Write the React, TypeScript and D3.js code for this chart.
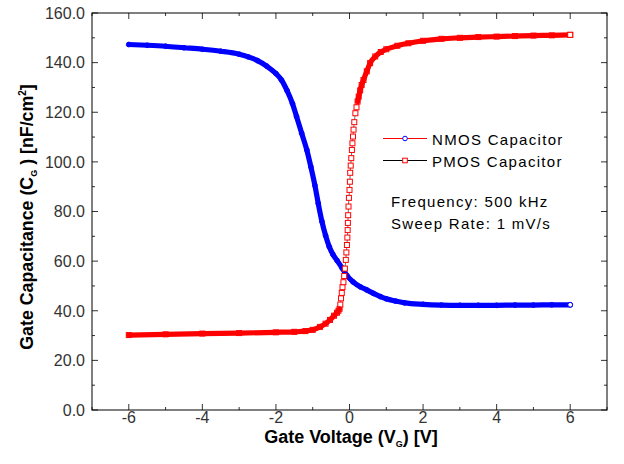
import React from "react";
import * as d3 from "d3";

// NMOS capacitor (blue circles)
const nmosV = [-6.0, -5.5, -5.0, -4.5, -4.0, -3.5, -3.0, -2.75, -2.5, -2.25, -2.0, -1.85, -1.7, -1.55, -1.44, -1.3, -1.16, -1.05, -0.94, -0.85, -0.75, -0.65, -0.55, -0.45, -0.34, -0.2, -0.07, 0.1, 0.3, 0.47, 0.65, 0.84, 1.0, 1.25, 1.5, 2.0, 2.5, 3.0, 3.5, 4.0, 4.5, 5.0, 5.5, 6.0];
const nmosC = [147.3, 147.0, 146.6, 146.0, 145.4, 144.6, 143.4, 142.3, 140.8, 138.6, 135.6, 133.0, 128.8, 123.5, 118.3, 111.5, 104.8, 98.0, 90.5, 83.3, 76.0, 70.3, 65.8, 62.7, 60.3, 57.2, 54.2, 51.6, 49.6, 48.4, 47.0, 45.7, 44.8, 43.9, 43.2, 42.6, 42.3, 42.2, 42.2, 42.2, 42.3, 42.3, 42.4, 42.4];

// PMOS capacitor (red squares)
const pmosV = [-6.0, -5.0, -4.0, -3.0, -2.0, -1.5, -1.2, -1.0, -0.8, -0.65, -0.53, -0.42, -0.34, -0.3, -0.27, -0.25, -0.23, -0.21, -0.19, -0.165, -0.145, -0.125, -0.1, -0.085, -0.07, -0.058, -0.05, -0.044, -0.036, -0.027, -0.016, 0.0, 0.01, 0.019, 0.033, 0.048, 0.065, 0.08, 0.095, 0.11, 0.13, 0.16, 0.19, 0.22, 0.25, 0.29, 0.33, 0.38, 0.47, 0.56, 0.7, 0.85, 1.0, 1.3, 1.6, 2.0, 2.5, 3.0, 3.5, 4.0, 4.5, 5.0, 5.5, 6.0];
const pmosC = [30.2, 30.5, 30.8, 31.0, 31.3, 31.5, 31.8, 32.3, 33.5, 34.8, 36.3, 38.0, 39.2, 40.0, 40.8, 42.5, 45.0, 47.2, 49.5, 51.5, 54.0, 57.0, 60.5, 63.5, 66.5, 69.5, 72.5, 75.4, 78.5, 82.0, 85.5, 88.7, 92.0, 95.6, 98.5, 101.5, 104.8, 107.5, 110.2, 113.0, 116.0, 119.6, 122.0, 124.3, 126.3, 128.8, 131.0, 133.0, 136.5, 139.8, 142.5, 144.3, 145.4, 146.8, 147.8, 148.8, 149.6, 150.0, 150.3, 150.5, 150.7, 150.9, 151.0, 151.2];

const xMajor = [-6, -4, -2, 0, 2, 4, 6];
const xMinor = [-7, -5, -3, -1, 1, 3, 5, 7];
const yMajor = [0, 20, 40, 60, 80, 100, 120, 140, 160];
const yMinor = [10, 30, 50, 70, 90, 110, 130, 150];
const legendLabels = ["NMOS Capacitor", "PMOS Capacitor"];
const notes = ["Frequency: 500 kHz", "Sweep Rate: 1 mV/s"];

type P = [number, number];

export default function App() {
  const W = 624, H = 464;
  const left = 92, right = 607, top = 13, bottom = 410;
  const x = d3.scaleLinear().domain([-7, 7]).range([left, right]);
  const y = d3.scaleLinear().domain([0, 160]).range([bottom, top]);
  const fmt = d3.format(".1f");
  const font = "'Liberation Sans', Arial, sans-serif";

  const nmos: P[] = nmosV.map((v, i) => [v, nmosC[i]]);
  const pmos: P[] = pmosV.map((v, i) => [v, pmosC[i]]);

  const line = d3.line<P>().x((d) => x(d[0])).y((d) => y(d[1])).curve(d3.curveMonotoneX);

  // runs of the sweep where the real (dense) markers overlap into a solid band
  const bandRuns = (pts: P[], maxSlope: number) => {
    const runs: P[][] = [];
    let cur: P[] | null = null;
    for (let i = 0; i < pts.length - 1; i++) {
      const a = pts[i], b = pts[i + 1];
      const s = Math.abs(y(b[1]) - y(a[1])) / Math.abs(x(b[0]) - x(a[0]));
      if (s < maxSlope) {
        if (!cur) { cur = [a]; runs.push(cur); }
        cur.push(b);
      } else cur = null;
    }
    return runs;
  };

  const tickLen = 6, minorLen = 3;
  const tickColor = "#333";
  const sq = 5;

  return (
    <svg width={W} height={H} style={{ position: "absolute", left: 0, top: 0, background: "#fff" }} fontFamily={font}>
      <rect x={0} y={0} width={W} height={H} fill="#fff" />
      {/* ticks */}
      {xMajor.map((t) => (
        <g key={"xm" + t} stroke={tickColor} strokeWidth={1}>
          <line x1={x(t)} x2={x(t)} y1={bottom} y2={bottom - tickLen} />
          <line x1={x(t)} x2={x(t)} y1={top} y2={top + tickLen} />
        </g>
      ))}
      {xMinor.map((t) => (
        <g key={"xn" + t} stroke={tickColor} strokeWidth={1}>
          <line x1={x(t)} x2={x(t)} y1={bottom} y2={bottom - minorLen} />
          <line x1={x(t)} x2={x(t)} y1={top} y2={top + minorLen} />
        </g>
      ))}
      {yMajor.map((t) => (
        <g key={"ym" + t} stroke={tickColor} strokeWidth={1}>
          <line x1={left} x2={left + tickLen} y1={y(t)} y2={y(t)} />
          <line x1={right} x2={right - tickLen} y1={y(t)} y2={y(t)} />
        </g>
      ))}
      {yMinor.map((t) => (
        <g key={"yn" + t} stroke={tickColor} strokeWidth={1}>
          <line x1={left} x2={left + minorLen} y1={y(t)} y2={y(t)} />
          <line x1={right} x2={right - minorLen} y1={y(t)} y2={y(t)} />
        </g>
      ))}
      <rect x={left} y={top} width={right - left} height={bottom - top} fill="none" stroke="#000" strokeWidth={1} />

      {/* tick labels */}
      {xMajor.map((t) => (
        <text key={"xl" + t} x={x(t)} y={423} textAnchor="middle" fontSize={16} fill="#333">{t}</text>
      ))}
      {yMajor.map((t) => (
        <text key={"yl" + t} x={85} y={y(t)} dy="0.36em" textAnchor="end" fontSize={16} fill="#333">{fmt(t)}</text>
      ))}

      {/* axis titles */}
      <text x={351} y={443} textAnchor="middle" fontSize={18} fontWeight="bold" fill="#000">
        Gate Voltage (V<tspan fontSize={9} dy={4}>G</tspan><tspan dy={-4}>) [V]</tspan>
      </text>
      <text transform={`translate(33,217) rotate(-90)`} textAnchor="middle" fontSize={17.8} fontWeight="bold" fill="#000">
        Gate Capacitance (C<tspan fontSize={9} dy={4}>G</tspan><tspan dy={-4}> ) [nF/cm</tspan><tspan fontSize={10} dy={-7}>2</tspan><tspan dy={7}>]</tspan>
      </text>

      {/* NMOS series */}
      <path d={line(nmos) || ""} fill="none" stroke="#ff0000" strokeWidth={0.6} />
      {nmos.map((d, i) => (
        <circle key={"nc" + i} cx={x(d[0])} cy={y(d[1])} r={2.4} fill="#fff" stroke="#0000ff" strokeWidth={1} />
      ))}
      {bandRuns(nmos, 1000).map((run, i) => (
        <path key={"nb" + i} d={line(run) || ""} fill="none" stroke="#0000ff" strokeWidth={5.2} strokeLinecap="round" strokeLinejoin="round" />
      ))}

      {/* PMOS series */}
      <path d={line(pmos) || ""} fill="none" stroke="#000" strokeWidth={0.6} />
      {pmos.map((d, i) => (
        <rect key={"pr" + i} x={x(d[0]) - sq / 2} y={y(d[1]) - sq / 2} width={sq} height={sq} fill="#fff" stroke="#ff0000" strokeWidth={1} />
      ))}
      {bandRuns(pmos, 5).map((run, i) => (
        <path key={"pb" + i} d={line(run) || ""} fill="none" stroke="#ff0000" strokeWidth={5.2} strokeLinecap="round" strokeLinejoin="round" />
      ))}
      {/* end markers */}
      <circle cx={x(nmos[nmos.length - 1][0])} cy={y(nmos[nmos.length - 1][1])} r={2.4} fill="#fff" stroke="#0000ff" strokeWidth={1} />
      <rect x={x(pmos[pmos.length - 1][0]) - sq / 2} y={y(pmos[pmos.length - 1][1]) - sq / 2} width={sq} height={sq} fill="#fff" stroke="#ff0000" strokeWidth={1} />

      {/* legend */}
      <line x1={383} x2={427} y1={138.5} y2={138.5} stroke="#ff0000" strokeWidth={1} />
      <circle cx={405} cy={138.5} r={2.3} fill="#fff" stroke="#0000ff" strokeWidth={1} />
      <line x1={383} x2={427} y1={160.5} y2={160.5} stroke="#000" strokeWidth={1} />
      <rect x={405 - 2.3} y={160.5 - 2.3} width={4.6} height={4.6} fill="#fff" stroke="#ff0000" strokeWidth={1} />
      {legendLabels.map((l, i) => (
        <text key={l} x={432} y={145 + i * 21.8} fontSize={15} letterSpacing={1.3} fill="#000">{l}</text>
      ))}
      {notes.map((n, i) => (
        <text key={n} x={391} y={207 + i * 22.3} fontSize={15} letterSpacing={1.3} fill="#000">{n}</text>
      ))}
    </svg>
  );
}
